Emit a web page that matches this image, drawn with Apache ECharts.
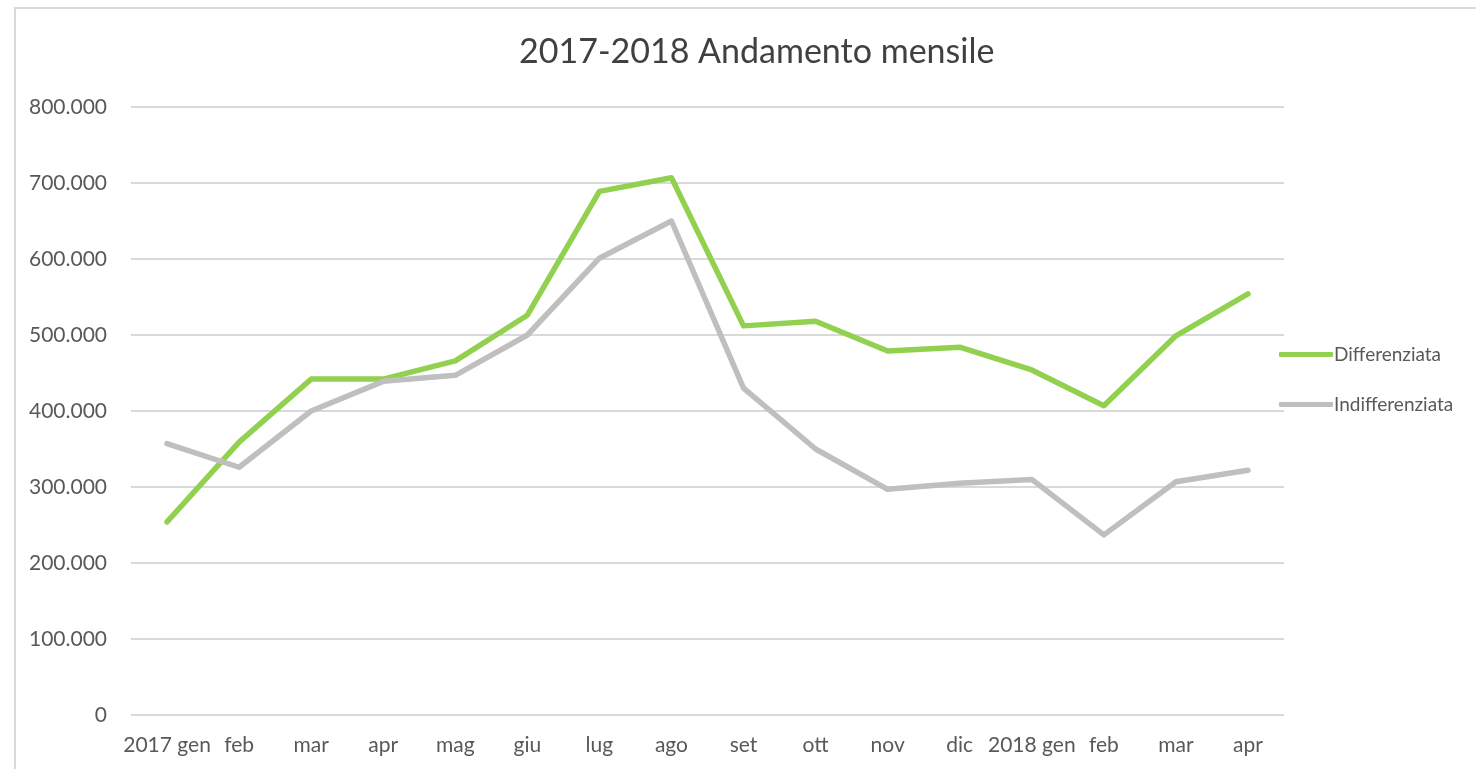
<!DOCTYPE html>
<html>
<head>
<meta charset="utf-8">
<script src="https://cdn.jsdelivr.net/npm/echarts@6/dist/echarts.min.js"></script>
<style>
  html, body { margin: 0; padding: 0; background: #fff; overflow: hidden; }
  #frame { position: absolute; left: 14px; top: 7px; width: 1500px; height: 800px; border: 2px solid #d9d9d9; }
  #my-line-chart { position: absolute; left: 0; top: 0; width: 1476px; height: 769px; }
</style>
</head>
<body>
<div id="frame"></div>
<div id="my-line-chart"></div>
<script>
// mesi
const categories = ['2017 gen', 'feb', 'mar', 'apr', 'mag', 'giu', 'lug', 'ago', 'set', 'ott', 'nov', 'dic', '2018 gen', 'feb', 'mar', 'apr'];
const differenziata = [254000, 359000, 442000, 442000, 466000, 526000, 689000, 707000, 512000, 518000, 479000, 484000, 454000, 407000, 499000, 554000];
const indifferenziata = [357000, 326000, 400000, 439000, 447000, 500000, 601000, 650000, 430000, 350000, 297000, 305000, 310000, 237000, 307000, 322000];

const font = 'Lato, "Open Sans", sans-serif';

function fmt(v) {
    return String(v).replace(/\B(?=(\d{3})+(?!\d))/g, '.');
}

let chart = echarts.init(document.getElementById('my-line-chart'));
const option = {
    animation: false,
    title: {
        text: '2017-2018 Andamento mensile',
        left: 519,
        top: 35,
        padding: 0,
        textStyle: { fontFamily: font, fontSize: 34, fontWeight: 'normal', color: '#404040' }
    },
    color: ['#92d050', '#bfbfbf'],
    legend: {
        orient: 'vertical',
        left: 1279,
        top: 345,
        padding: 0,
        itemWidth: 54,
        itemHeight: 5,
        itemGap: 31,
        icon: 'roundRect',
        textStyle: { fontFamily: font, fontSize: 19, color: '#595959', padding: [0, 0, 0, -4] },
        data: ['Differenziata', 'Indifferenziata']
    },
    grid: { left: 131, right: 192, top: 107, bottom: 54 },
    xAxis: {
        type: 'category',
        data: categories,
        boundaryGap: true,
        axisLine: { show: false },
        axisTick: { show: false },
        axisLabel: { fontFamily: font, fontSize: 21, color: '#595959', margin: 20, interval: 0 }
    },
    yAxis: {
        type: 'value',
        min: 0,
        max: 800000,
        interval: 100000,
        axisLabel: { fontFamily: font, fontSize: 21, color: '#595959', margin: 24, formatter: fmt },
        splitLine: { lineStyle: { color: '#d9d9d9', width: 2 } }
    },
    series: [
        {
            name: 'Differenziata',
            type: 'line',
            data: differenziata,
            symbol: 'none',
            lineStyle: { width: 5.5, cap: 'round', join: 'round' }
        },
        {
            name: 'Indifferenziata',
            type: 'line',
            data: indifferenziata,
            symbol: 'none',
            lineStyle: { width: 5.5, cap: 'round', join: 'round' }
        }
    ]
};
chart.setOption(option);
window.addEventListener('resize', () => {
    chart.resize();
});
</script>
</body>
</html>
